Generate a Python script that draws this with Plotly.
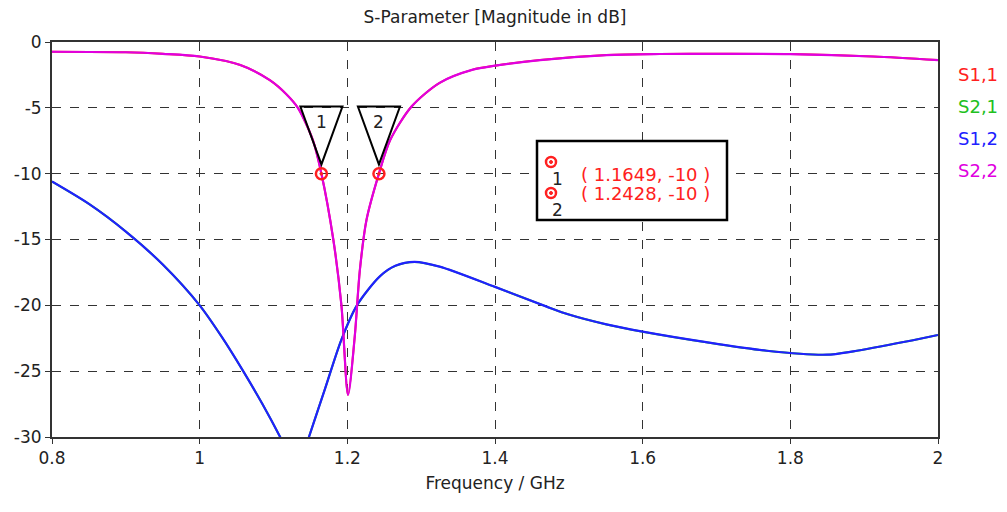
import plotly.graph_objects as go

# ---- data ----
freq_s22 = [0.80, 0.90, 0.95, 1.00, 1.055, 1.095, 1.118, 1.133, 1.153, 1.1649, 1.181, 1.192, 1.201,
            1.210, 1.217, 1.226, 1.2428, 1.258, 1.287, 1.325, 1.37, 1.40, 1.461, 1.551, 1.623, 1.70,
            1.80, 1.912, 2.00]
s22 = [-0.74, -0.78, -0.9, -1.1, -1.75, -2.9, -4.0, -5.0, -7.4, -10.0, -15.0, -20.0, -26.8,
       -22.4, -17.3, -13.5, -10.0, -7.45, -4.9, -3.1, -2.1, -1.8, -1.37, -0.99, -0.91, -0.9,
       -0.92, -1.1, -1.37]

freq_s12 = [0.80, 0.85, 0.90, 0.95, 1.00, 1.03, 1.059, 1.085, 1.109, 1.125, 1.135, 1.148, 1.17,
            1.192, 1.213, 1.244, 1.265, 1.291, 1.325, 1.40, 1.47, 1.50, 1.551, 1.60, 1.686, 1.768,
            1.849, 1.885, 1.957, 2.00]
s12 = [-10.6, -12.3, -14.4, -16.9, -20.0, -22.4, -25.0, -27.5, -30.0, -31.8, -32.2, -30.0, -26.3,
       -22.6, -20.0, -17.8, -17.0, -16.7, -17.06, -18.6, -20.1, -20.7, -21.45, -22.0, -22.8, -23.45,
       -23.75, -23.5, -22.75, -22.25]

marker_ids = ["1", "2"]
marker_x = [1.1649, 1.2428]
marker_y = [-10, -10]

legend_names = ["S1,1", "S2,1", "S1,2", "S2,2"]
legend_colors = ["#ff2020", "#20c020", "#2020ff", "#e000e0"]

title_text = "S-Parameter [Magnitude in dB]"
x_title = "Frequency / GHz"
x_ticks = [0.8, 1.0, 1.2, 1.4, 1.6, 1.8, 2.0]
x_tick_labels = ["0.8", "1", "1.2", "1.4", "1.6", "1.8", "2"]
y_ticks = [0, -5, -10, -15, -20, -25, -30]
y_tick_labels = ["0", "-5", "-10", "-15", "-20", "-25", "-30"]

# ---- layout geometry (pixels) ----
W, H = 1007, 512
ML, MR, MT, MB = 52, 69, 42, 75
PW, PH = W - ML - MR, H - MT - MB

def px(xp):
    return (xp - ML) / PW

def py(yp):
    return 1 - (yp - MT) / PH

FONT = "DejaVu Sans, Verdana, sans-serif"
TXT = "#222222"
SM = 0.8

fig = go.Figure()
# S1,1 and S2,1 coincide with S2,2 and S1,2 (symmetric two-port), drawn beneath
fig.add_trace(go.Scatter(x=freq_s22, y=s22, mode="lines", line=dict(color=legend_colors[0], width=2, shape="spline", smoothing=SM)))
fig.add_trace(go.Scatter(x=freq_s12, y=s12, mode="lines", line=dict(color=legend_colors[1], width=2, shape="spline", smoothing=SM)))
fig.add_trace(go.Scatter(x=freq_s12, y=s12, mode="lines", line=dict(color=legend_colors[2], width=2.2, shape="spline", smoothing=SM)))
fig.add_trace(go.Scatter(x=freq_s22, y=s22, mode="lines", line=dict(color=legend_colors[3], width=2.2, shape="spline", smoothing=SM)))

shapes = []
annotations = []

# marker triangles
for mid, mx, my in zip(marker_ids, marker_x, marker_y):
    hw = 0.0285
    top = my + 5.1
    tip = my + 0.7
    shapes.append(dict(type="path", xref="x", yref="y",
                       path=f"M {mx-hw},{top} L {mx+hw},{top} L {mx},{tip} Z",
                       line=dict(color="black", width=2), fillcolor="rgba(0,0,0,0)"))
    annotations.append(dict(x=mx, y=my + 3.9, xref="x", yref="y", text=mid, showarrow=False,
                            font=dict(family=FONT, size=17, color=TXT)))

fig.add_trace(go.Scatter(x=marker_x, y=marker_y, mode="markers",
                         marker=dict(symbol="circle-open-dot", size=11, color="#ff2020", line=dict(width=2.5))))

# marker info box
shapes.append(dict(type="rect", xref="paper", yref="paper", x0=px(537), x1=px(727), y0=py(220), y1=py(141),
                   line=dict(color="black", width=2.5), fillcolor="white", layer="above"))
for i, (mid, mx, my) in enumerate(zip(marker_ids, marker_x, marker_y)):
    cy = 162 + 31 * i
    r = 5
    shapes.append(dict(type="circle", xref="paper", yref="paper", x0=px(551 - r), x1=px(551 + r),
                       y0=py(cy + r), y1=py(cy - r), line=dict(color="#ff2020", width=2.5), layer="above"))
    shapes.append(dict(type="circle", xref="paper", yref="paper", x0=px(549.5), x1=px(552.5),
                       y0=py(cy + 1.5), y1=py(cy - 1.5), line=dict(color="#ff2020", width=1),
                       fillcolor="#ff2020", layer="above"))
    annotations.append(dict(x=px(557), y=py(cy + 17), xref="paper", yref="paper", text=mid, showarrow=False,
                            font=dict(family=FONT, size=17, color=TXT)))
    annotations.append(dict(x=px(579), y=py(cy), xref="paper", yref="paper", xanchor="left",
                            text=f"( {mx:.4f}, {my:g} )", showarrow=False,
                            font=dict(family=FONT, size=18, color="#ff2020")))

# legend (text only)
for i, (nm, col) in enumerate(zip(legend_names, legend_colors)):
    annotations.append(dict(x=px(956), y=py(62 + 32 * i), xref="paper", yref="paper", xanchor="left",
                            text=nm, showarrow=False, font=dict(family=FONT, size=18, color=col)))

axis_common = dict(showgrid=True, gridcolor="#333", griddash="dash", gridwidth=1,
                   showline=True, mirror=True, linecolor="#333", linewidth=2,
                   ticks="outside", ticklen=5, tickcolor="#333", zeroline=False,
                   automargin=False, tickfont=dict(family=FONT, size=17, color=TXT))

fig.update_layout(
    width=W, height=H,
    margin=dict(l=ML, r=MR, t=MT, b=MB),
    paper_bgcolor="white", plot_bgcolor="white",
    showlegend=False,
    title=dict(text=title_text, x=0.5, xref="paper", y=1 - 17 / H, yanchor="middle",
               font=dict(family=FONT, size=17, color=TXT)),
    font=dict(family=FONT, size=17, color=TXT),
    shapes=shapes, annotations=annotations,
    xaxis=dict(range=[0.8, 2.0], tickvals=x_ticks, ticktext=x_tick_labels,
               title=dict(text=x_title, standoff=10, font=dict(family=FONT, size=17, color=TXT)),
               **axis_common),
    yaxis=dict(range=[-30, 0], tickvals=y_ticks, ticktext=y_tick_labels, **axis_common),
)

fig.write_html("out.html", config={"displayModeBar": False},
               post_script="document.body.style.margin='0px';")
